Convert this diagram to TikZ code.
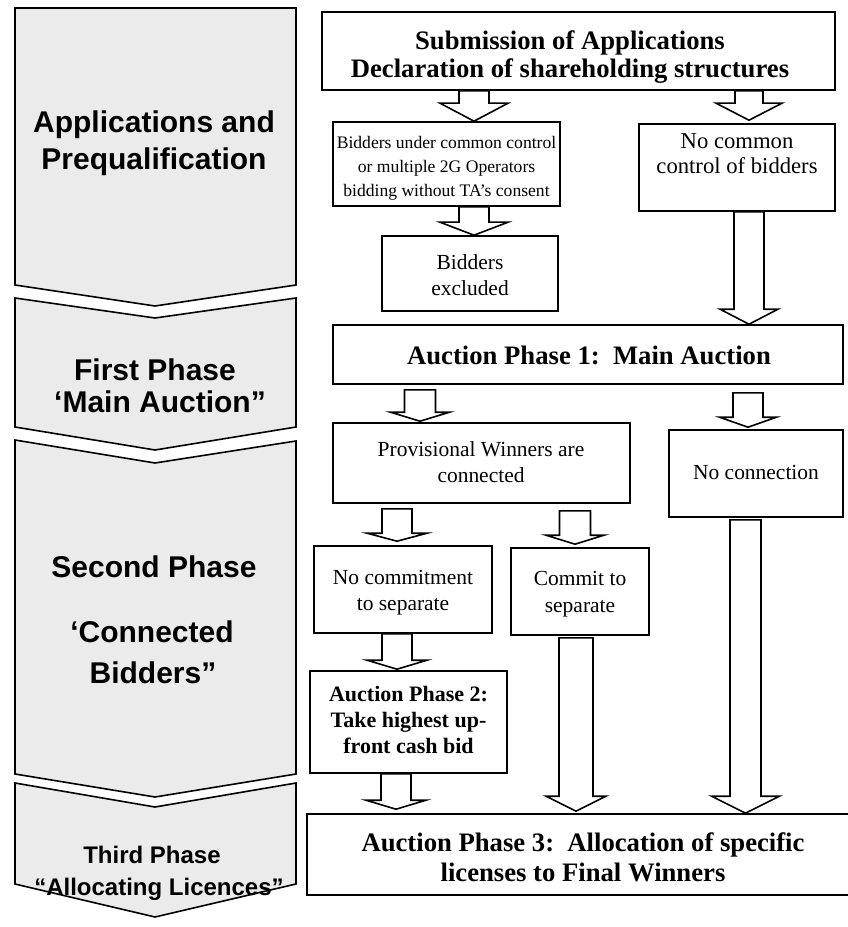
\documentclass[tikz,border=0pt]{standalone}
\usepackage{fontspec}
\setmainfont{Liberation Serif}
\newfontfamily\phasefont{Liberation Sans}
\usetikzlibrary{calc,fit}

\tikzset{
  phase/.style={draw=black, line width=1.2pt, fill=black!8, line join=miter},
  box/.style={draw=black, line width=1.2pt, fill=white, inner sep=0pt},
  blockarrow/.style={draw=black, line width=1.2pt, fill=white, line join=miter},
  phaselabel/.style={anchor=base, inner sep=0pt, font=\phasefont\bfseries\fontsize{22.5}{27}\selectfont},
  phaselabelsmall/.style={anchor=base, inner sep=0pt, font=\phasefont\bfseries\fontsize{18}{22}\selectfont},
  headtext/.style={anchor=base, inner sep=0pt, font=\bfseries\fontsize{20}{24}\selectfont},
  bodytext/.style={anchor=base, inner sep=0pt, font=\fontsize{16.1}{19}\selectfont},
  largertext/.style={anchor=base, inner sep=0pt, font=\fontsize{17}{20}\selectfont},
  smalltext/.style={anchor=base, inner sep=0pt, font=\fontsize{13.2}{16}\selectfont},
  boldtext/.style={anchor=base, inner sep=0pt, font=\bfseries\fontsize{16.5}{20}\selectfont},
}

% hollow block arrow: #1 column coordinate, #2 source node, #3 target node,
% #4 gap below source, #5 gap above target, #6 shaft half width,
% #7 head half width, #8 head length
\newcommand{\hollowarrow}[8]{%
  \coordinate (ha-top) at ($(#1 |- #2.south)+(0,#4)$);
  \coordinate (ha-tip) at ($(#1 |- #3.north)+(0,-#5)$);
  \draw[blockarrow] ($(ha-top)+(-#6,0)$) -- ($(ha-tip)+(-#6,-#8)$)
    -- ($(ha-tip)+(-#7,-#8)$) -- (ha-tip) -- ($(ha-tip)+(#7,-#8)$)
    -- ($(ha-tip)+(#6,-#8)$) -- ($(ha-top)+(#6,0)$) -- cycle;
}

\begin{document}
\begin{tikzpicture}[x=0.75pt, y=-0.75pt]
\useasboundingbox (0,0) rectangle (848,927);

% ---- phase chevrons on the left ----
\draw[phase] (15,8) -- (296,8) -- (296,285) -- (155,306) -- (15,285) -- cycle;
\draw[phase] (15,298) -- (155,318) -- (296,298) -- (296,427) -- (155,450) -- (15,427) -- cycle;
\draw[phase] (15,440) -- (155,463) -- (296,441) -- (296,774) -- (155,797) -- (15,774) -- cycle;
\draw[phase] (15,783) -- (155,807) -- (296,783) -- (296,884) -- (155,917) -- (15,884) -- cycle;

\node[phaselabel] (p1a) at (154,133) {Applications and};
\node[phaselabel] (p1b) at (154,170) {Prequalification};
\node[phaselabel] (p2a) at (155,380) {First Phase};
\node[phaselabel] (p2b) at (160,412) {‘Main Auction”};
\node[phaselabel] (p3a) at (154,577) {Second Phase};
\node[phaselabel] (p3b) at (152,642) {‘Connected};
\node[phaselabel] (p3c) at (153,683) {Bidders”};
\node[phaselabelsmall] (p4a) at (152,863) {Third Phase};
\node[phaselabelsmall] (p4b) at (159,895) {“Allocating Licences”};

% ---- process boxes ----
\node[box, fit={(322,12) (835,90)}] (b1) {};
\node[box, fit={(333,122) (560,206)}] (b2) {};
\node[box, fit={(639,124) (835,211)}] (b3) {};
\node[box, fit={(382,236) (558,311)}] (b4) {};
\node[box, fit={(333,325) (843,384)}] (b5) {};
\node[box, fit={(333,423) (630,503)}] (b6) {};
\node[box, fit={(669,430) (843,517)}] (b7) {};
\node[box, fit={(314,546) (492,633)}] (b8) {};
\node[box, fit={(511,548) (649,635)}] (b9) {};
\node[box, fit={(310,671) (507,773)}] (b11) {};
\node[box, fit={(307,814) (870,895)}] (b10) {};

% ---- box texts ----
\node[headtext] (t1a) at (570,50) {Submission of Applications};
\node[headtext] (t1b) at (570,78) {Declaration of shareholding structures};

\node[smalltext] (t2a) at (446.5,148.5) {Bidders under common control};
\node[smalltext] (t2b) at (446.5,172.5) {or multiple 2G Operators};
\node[smalltext] (t2c) at (446.5,196.5) {bidding without TA’s consent};

\node[largertext] (t3a) at (737,148.5) {No common};
\node[largertext] (t3b) at (737,174) {control of bidders};

\node[bodytext] (t4a) at (470,269) {Bidders};
\node[bodytext] (t4b) at (470,295.5) {excluded};

\node[headtext] (t5) at (589,364) {Auction Phase 1:\ \ Main Auction};

\node[bodytext] (t6a) at (481,456) {Provisional Winners are};
\node[bodytext] (t6b) at (481,482) {connected};

\node[bodytext] (t7) at (756,479) {No connection};

\node[bodytext] (t8a) at (403,584) {No commitment};
\node[bodytext] (t8b) at (403,610) {to separate};

\node[bodytext] (t9a) at (580,585) {Commit to};
\node[bodytext] (t9b) at (580,612) {separate};

\node[boldtext] (t11a) at (408.5,701.5) {Auction Phase 2:};
\node[boldtext] (t11b) at (408.5,727) {Take highest up-};
\node[boldtext] (t11c) at (408.5,753.5) {front cash bid};

\node[headtext] (t10a) at (583,851) {Auction Phase 3:\ \ Allocation of specific};
\node[headtext] (t10b) at (583,881) {licenses to Final Winners};

% ---- arrow columns ----
\coordinate (colA) at (474,0);
\coordinate (colB) at (749,0);
\coordinate (colC) at (420,0);
\coordinate (colD) at (748,0);
\coordinate (colE) at (397,0);
\coordinate (colF) at (575,0);
\coordinate (colG) at (576,0);
\coordinate (colH) at (396,0);
\coordinate (colI) at (745.5,0);

% ---- hollow block arrows ----
\hollowarrow{colA}{b1}{b2}{0}{0}{15}{34}{18}
\hollowarrow{colB}{b1}{b3}{0}{3}{14}{33}{17}
\hollowarrow{colA}{b2}{b4}{0}{0}{15}{34}{13}
\hollowarrow{colB}{b3}{b5}{0}{0}{15}{29}{15}
\hollowarrow{colC}{b5}{b6}{5}{1}{15.5}{29.5}{9}
\hollowarrow{colD}{b5}{b7}{8}{2}{15}{28.5}{10}
\hollowarrow{colE}{b6}{b8}{5}{4}{15}{30}{8}
\hollowarrow{colF}{b6}{b9}{7}{3}{15.5}{29}{9}
\hollowarrow{colE}{b8}{b11}{0}{1}{15}{30}{9}
\hollowarrow{colH}{b11}{b10}{0}{4}{15}{30}{9}
\hollowarrow{colG}{b9}{b10}{2}{2}{17}{30}{15}
\hollowarrow{colI}{b7}{b10}{2}{0}{15.5}{34}{17}

\end{tikzpicture}
\end{document}
